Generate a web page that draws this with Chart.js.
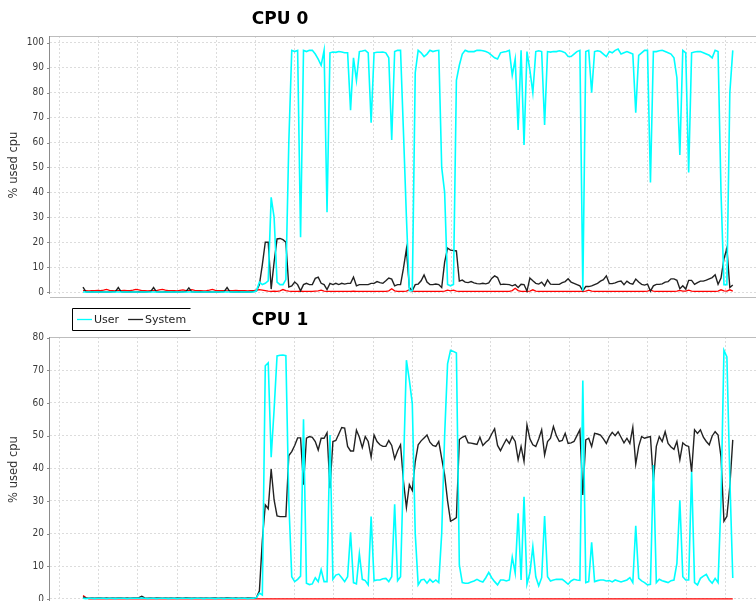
<!DOCTYPE html>
<html>
<head>
<meta charset="utf-8">
<script src="https://cdn.jsdelivr.net/npm/chart.js@4.4.0/dist/chart.umd.min.js"></script>
<style>
  html, body { margin: 0; padding: 0; background: #fff; width: 756px; height: 601px; overflow: hidden; }
  canvas { position: absolute; left: 0; }
  #cpu0 { top: 0; }
  #cpu1 { top: 306px; }
</style>
</head>
<body>
<canvas id="cpu0" width="756" height="306"></canvas>
<canvas id="cpu1" width="756" height="310"></canvas>
<script>
// ---- CPU 0 (% used), one sample every 3 s ----
const cpu0User = [
  0,0,0,0,0,0,0,0,0,0,
  0,0,0,0,0,0,0,0,0,0,
  0,0,0,0,0,0,0,0,0,0,
  0,0,0,0,0,0,0,0,0,0,
  0,0,0,0,0,0,0,0,0,0,
  0,0,0,0,0,0,0,0,0,0.5,
  4,3,3.5,4.5,38,30,4,3,3,5,
  60,97,96.5,97,22,97,96.5,97,97,95.5,
  93.5,91,97,32,96,96.3,96.2,96.5,96.3,96,
  96,73,94,85,96.5,96.7,97,96,68,96,
  96.2,96.2,96.3,96,94,61,96.5,97,97,64,
  30,0.5,0.5,88,97,96,94.5,95.5,97,96.5,
  96.8,97,50,40,3,2.5,3,85,91,95.5,
  97,96.5,96.5,96.5,97,97,96.8,96.5,96,95,
  94,93.5,96,96.3,96.5,97,87,93.5,65,97,
  59,96.5,89,80,96.5,96.8,96.5,67,96.5,96.3,
  96.5,96.5,96.8,96.5,96,94.5,94.5,95.5,96.5,97,
  0.5,96.5,97,80,96.5,96.8,96.5,95.5,94.5,96.5,
  96,97,97.5,95.5,96,96.5,96,95.5,72,95,
  96,97,97,44,96.5,96.5,96.8,97,96.5,96,
  95.5,94,86,55,97,96,48,96,96.3,96.5,
  96.5,96,95.5,95,94,97,96.5,40,3,3,
  80,97
];
const cpu0System = [
  2,0.1,0,0.1,0,0,0.1,0,0,0,
  0.1,0.2,1.8,0.1,0,0,0.1,0,0,0.1,
  0,0,0.1,0.2,1.8,0.1,0,0,0.1,0,
  0,0.1,0,0,0.1,0.2,1.7,0.1,0,0,
  0.1,0,0,0.1,0,0,0,0.1,0.2,1.8,
  0.1,0,0,0.1,0,0,0.1,0,0.2,0.5,
  3,11,20,20,1.2,12,21.3,21.5,21,20,
  2,2.5,4,3,0.5,3,3.5,3,3,5.5,
  6,3.5,3,1,3.5,3,3.5,3,3.5,3.2,
  3.5,3.5,6,2.5,3,3,3,3,3.5,3.5,
  4.2,3.8,3.5,4.5,5.6,5.2,2.5,3,3,9.6,
  17.3,1.8,0.5,3,3.2,4.5,6.9,4,3,3,
  3.2,3,1.8,12,17.6,16.8,16.7,16.5,4.4,4.8,
  4,3.8,4.2,3.7,3.4,3.3,3.5,3.3,3.7,5.5,
  6.5,5.8,3,3.2,3.1,3,2.5,3,1.8,3.1,
  3,0.4,5.6,4.5,3.5,3.2,4,2.5,4.9,3.2,
  3.1,3.1,3.1,3.8,4.2,5.3,4,3.5,3,2.5,
  0.5,2.2,2.2,2.5,3,3.5,4.4,5,6.5,3.4,
  3.4,3.7,4.2,4.4,3,4.4,3.5,3.2,5.2,4,
  3.1,2.8,3.2,0.4,2.5,3.1,3.1,3.3,4,4.2,
  5.3,5.3,4.7,1.3,2.5,1.2,4.7,4.7,3.1,3.8,
  4.4,4.4,4.8,5.3,5.8,6.9,3.1,5.6,13.3,17.6,
  1.8,2.8
];
const cpu0Nice = [
  0.6,0.6,0.5,0.6,0.6,0.7,0.6,0.8,1.1,0.7,
  0.6,0.5,0.6,0.6,0.7,0.6,0.6,0.8,1.1,0.9,
  0.6,0.6,0.5,0.6,0.6,0.6,0.9,1.1,0.8,0.6,
  0.6,0.6,0.5,0.7,0.9,0.6,0.6,1.0,0.7,0.6,
  0.6,0.5,0.6,0.8,1.1,0.7,0.6,0.6,0.6,0.5,
  0.6,0.6,0.7,0.6,0.6,0.6,0.5,0.6,0.6,0.8,
  1.0,0.8,0.6,0.4,0.3,0.4,0.3,0.5,1.0,0.6,
  0.4,0.3,0.3,0.3,0.4,0.3,0.3,0.3,0.3,0.4,
  0.5,0.8,0.4,0.3,0.3,0.3,0.3,0.3,0.3,0.3,
  0.3,0.3,0.4,0.3,0.3,0.3,0.3,0.3,0.3,0.3,
  0.3,0.3,0.3,0.3,0.5,1.3,0.5,0.3,0.3,0.3,
  0.4,0.9,0.4,0.3,0.3,0.3,0.3,0.3,0.3,0.3,
  0.3,0.3,0.3,0.4,0.8,0.5,0.8,0.4,0.3,0.3,
  0.3,0.3,0.3,0.3,0.3,0.3,0.3,0.3,0.3,0.3,
  0.3,0.3,0.3,0.3,0.3,0.3,0.6,1.5,0.6,0.3,
  0.3,0.3,0.4,0.9,0.4,0.3,0.3,0.3,0.3,0.3,
  0.3,0.3,0.3,0.3,0.3,0.3,0.3,0.3,0.3,0.3,
  0.3,0.4,0.8,0.4,0.3,0.3,0.3,0.3,0.3,0.3,
  0.3,0.3,0.3,0.3,0.3,0.3,0.3,0.3,0.3,0.3,
  0.3,0.3,0.4,0.8,0.4,0.3,0.3,0.3,0.3,0.3,
  0.3,0.3,0.4,0.7,0.4,0.4,0.8,0.4,0.3,0.3,
  0.3,0.3,0.3,0.3,0.3,0.3,0.4,0.9,0.5,0.4,
  0.9,0.4
];

// ---- CPU 1 (% used) ----
const cpu1User = [
  0.2,0.1,0.2,0.2,0.1,0.2,0.2,0.2,0.1,0.2,
  0.2,0.1,0.2,0.2,0.2,0.1,0.2,0.2,0.2,0.2,
  0.3,0.2,0.1,0.2,0.2,0.1,0.2,0.2,0.2,0.1,
  0.2,0.2,0.1,0.2,0.2,0.2,0.2,0.1,0.2,0.2,
  0.2,0.1,0.2,0.2,0.2,0.1,0.2,0.2,0.1,0.2,
  0.2,0.2,0.1,0.2,0.2,0.2,0.1,0.2,0.2,0.4,
  1.8,1.2,71.4,72.3,43.4,58,74.4,74.6,74.7,74.5,
  30,6.8,5.3,6,7,55,4.8,4.4,4.6,6.5,
  5.3,9,5.3,5.3,50.2,6,7.3,7.6,6.5,5.3,
  6.8,20.4,5,4.6,13.8,6,5.6,4.3,25.2,5.6,
  5.8,5.8,6.2,6.3,5.3,6.8,29,5.6,6.8,40,
  73.1,67,59.8,20,4.3,5.8,6,4.8,6,5.1,
  5.8,5,20,50,72,76.1,75.8,75.3,10.4,5,
  4.8,4.8,5.2,5.5,6,5.5,5.2,6.5,8.1,6.5,
  5.3,4.3,5.8,5.8,5.5,5.8,12.8,7.9,26.2,5.8,
  31.3,4.5,8,16,6.8,4,6.5,25.4,6.8,5.5,
  5.8,6,6,6,5.3,4.5,5.5,6,5.8,5.7,
  66.9,5,5.3,17.3,5.3,5.6,5.8,5.8,5.5,5.6,
  5.2,5.8,5.5,5.2,5.5,5.8,6.5,5,22.4,6.3,
  5.5,5,4.3,4.5,41,5,6,5.6,5.3,5,
  5.6,5.8,10.9,30.2,6.8,5.8,5.8,38.9,5,4.3,
  6.3,7,7.5,5.8,4.8,6.3,5,30,76.1,74.1,
  37,6.4
];
const cpu1System = [
  0.6,0.3,0.2,0.3,0.2,0.3,0.3,0.2,0.3,0.2,
  0.3,0.2,0.3,0.3,0.2,0.3,0.2,0.3,0.3,0.4,
  0.8,0.3,0.2,0.3,0.2,0.3,0.3,0.2,0.3,0.2,
  0.3,0.2,0.3,0.3,0.2,0.4,0.3,0.2,0.3,0.2,
  0.3,0.2,0.3,0.2,0.3,0.3,0.2,0.3,0.2,0.4,
  0.3,0.2,0.3,0.2,0.3,0.2,0.3,0.3,0.2,0.4,
  2.5,18,28.8,27.6,39.8,30.3,25.4,25.2,25.2,25.2,
  43.9,45.1,47,49.3,49.3,35,49.2,49.7,49.5,48.2,
  45.6,49.2,49.2,50.9,33.9,48.2,48.5,50.5,52.5,52.3,
  46.7,45.3,45.3,51.7,49.5,46.3,49.7,48.2,43.4,50.2,
  48.2,47.2,46.7,46.7,48.5,47,42.9,45.4,47.2,36,
  28,35,33.2,42,47.2,48.4,49.3,50.2,48,47,
  46.7,48.2,43,38,30,23.8,24.3,24.9,48.8,49.5,
  49.9,47.8,47.7,47.5,47.3,49.5,47,48,48.7,50.5,
  52.1,47,45.4,47.2,48.9,47.6,49.7,48.2,42.6,46.7,
  42.1,53.3,49,47.2,46.7,49,51.8,44.1,48.2,49.2,
  52.8,50,48.2,48.5,50.7,47.6,47.8,48.2,50,51.8,
  31.8,48.7,49.2,46.7,50.7,50.5,50.2,49,47.6,49.7,
  51,50,51.2,49.5,47.8,49.2,47.6,52.5,41.3,46.7,
  49.7,49.2,49.5,49.7,36,46.7,49.7,48.2,51.2,47.6,
  46.5,45.8,48.2,42.6,47.8,47,46.7,38.9,51.8,50.7,
  51.8,49.5,48.2,47.2,49.9,51.2,50.2,43.5,23.8,25.3,
  34.5,48.7
];
const cpu1Nice = [1.0, 0.4].concat(new Array(220).fill(0));

// ---- axes ----
const SAMPLE_START = 24;   // s, time of the first sample
const SAMPLE_STEP = 3;     // s between samples
const sampleTimes = cpu0User.map((_, i) => SAMPLE_START + SAMPLE_STEP * i);
const timeGrid = [0, 40, 80, 120, 160, 200, 240, 280, 320, 360, 400, 440, 480, 520, 560, 600, 640, 680];
const cpu0Ticks = [0, 10, 20, 30, 40, 50, 60, 70, 80, 90, 100];
const cpu1Ticks = [0, 10, 20, 30, 40, 50, 60, 70, 80];

const SERIES = [
  { label: 'User',   color: '#00ffff', width: 1.6, key: true },
  { label: 'System', color: '#222222', width: 1.4, key: true },
  { label: 'Nice',   color: '#ff0000', width: 1.3, key: false }
];

const GRID = '#dcdcdc';
const TICK_FONT = { family: '"DejaVu Sans Condensed", "DejaVu Sans", sans-serif', size: 10 };

// frame lines, y tick marks and the panel heading
const panelFrame = {
  id: 'panelFrame',
  afterDraw(chart, args, opts) {
    const { ctx, chartArea: a } = chart;
    const y = chart.scales.y;
    ctx.save();
    ctx.lineWidth = 1;
    ctx.strokeStyle = '#bdbdbd';
    ctx.beginPath();
    ctx.moveTo(a.left, a.top + 0.5); ctx.lineTo(a.right, a.top + 0.5);
    ctx.moveTo(a.left, a.bottom + 3.5); ctx.lineTo(a.right, a.bottom + 3.5);
    ctx.stroke();
    ctx.strokeStyle = '#8c8c8c';
    ctx.beginPath();
    ctx.moveTo(a.left - 0.5, a.top); ctx.lineTo(a.left - 0.5, a.bottom);
    y.ticks.forEach(t => {
      const py = Math.round(y.getPixelForValue(t.value)) + 0.5;
      ctx.moveTo(a.left - 3, py); ctx.lineTo(a.left, py);
    });
    ctx.stroke();
    ctx.fillStyle = '#000';
    ctx.font = 'bold 17px "DejaVu Sans", sans-serif';
    ctx.textAlign = 'center';
    ctx.textBaseline = 'middle';
    ctx.fillText(opts.title, opts.titleX, opts.titleY);
    ctx.restore();
  }
};

// series key box (User / System)
const seriesKey = {
  id: 'seriesKey',
  afterDraw(chart, args, opts) {
    if (!opts.show) return;
    const ctx = chart.ctx;
    const { left, top, bottom, right } = opts.box;
    const mid = (top + bottom) / 2;
    ctx.save();
    ctx.strokeStyle = '#000';
    ctx.lineWidth = 1;
    ctx.beginPath();
    ctx.moveTo(right, top); ctx.lineTo(left, top); ctx.lineTo(left, bottom); ctx.lineTo(right, bottom);
    ctx.stroke();
    ctx.font = '11px "DejaVu Sans", sans-serif';
    ctx.textBaseline = 'middle';
    ctx.textAlign = 'left';
    let x = left + 4.5;
    chart.data.datasets.filter(d => d.showInKey).forEach(d => {
      ctx.strokeStyle = d.borderColor;
      ctx.lineWidth = 1.3;
      ctx.beginPath();
      ctx.moveTo(x, mid); ctx.lineTo(x + 15, mid);
      ctx.stroke();
      ctx.fillStyle = '#222';
      ctx.fillText(d.label, x + 17, mid + 0.5);
      x += 17 + ctx.measureText(d.label).width + 9;
    });
    ctx.restore();
  }
};

function makeDatasets(values) {
  return values.map((arr, s) => ({
    label: SERIES[s].label,
    showInKey: SERIES[s].key,
    data: arr.map((v, i) => ({ x: sampleTimes[i], y: v })),
    borderColor: SERIES[s].color,
    borderWidth: SERIES[s].width,
    pointRadius: 0,
    tension: 0,
    fill: false
  }));
}

function panel(canvasId, values, cfg) {
  return new Chart(document.getElementById(canvasId), {
    type: 'line',
    data: { datasets: makeDatasets(values) },
    plugins: [panelFrame, seriesKey],
    options: {
      responsive: false,
      animation: false,
      devicePixelRatio: 1,
      events: [],
      layout: { padding: { top: cfg.padTop, bottom: cfg.padBottom, left: 0, right: 0 } },
      plugins: {
        legend: { display: false },
        title: { display: false },
        tooltip: { enabled: false },
        panelFrame: { title: cfg.title, titleX: 280, titleY: cfg.titleY },
        seriesKey: { show: !!cfg.key, box: cfg.key }
      },
      scales: {
        x: {
          type: 'linear',
          min: -9.67,
          max: 710.7,
          afterBuildTicks: s => { s.ticks = timeGrid.map(v => ({ value: v })); },
          ticks: { display: false },
          grid: { color: GRID, lineWidth: 1, drawTicks: false },
          border: { display: false, dash: [2, 2] }
        },
        y: {
          type: 'linear',
          min: cfg.yMin,
          max: cfg.yMax,
          afterBuildTicks: s => { s.ticks = cfg.ticks.map(v => ({ value: v })); },
          afterFit: s => { s.width = 50; },
          ticks: { color: '#3a3a3a', font: TICK_FONT, padding: 6 },
          grid: { color: GRID, lineWidth: 1, drawTicks: false },
          border: { display: false, dash: [2, 2] },
          title: {
            display: true,
            text: '% used cpu',
            color: '#333',
            font: { family: '"DejaVu Sans", sans-serif', size: 11.5 },
            padding: { top: 7, bottom: 0 }
          }
        }
      }
    }
  });
}

panel('cpu0', [cpu0User, cpu0System, cpu0Nice], {
  title: 'CPU 0', titleY: 20, padTop: 36, padBottom: 6,
  yMin: -0.78, yMax: 102.75, ticks: cpu0Ticks
});
panel('cpu1', [cpu1User, cpu1System, cpu1Nice], {
  title: 'CPU 1', titleY: 15, padTop: 31, padBottom: 14,
  yMin: -0.94, yMax: 80.2, ticks: cpu1Ticks,
  key: { left: 72.5, top: 2.5, bottom: 24.5, right: 190.5 }
});
</script>
</body>
</html>
